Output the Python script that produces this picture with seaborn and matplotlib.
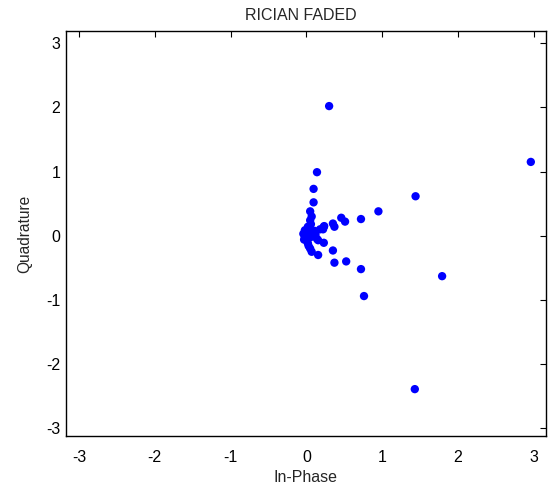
import matplotlib
matplotlib.use("Agg")
import matplotlib.pyplot as plt
import seaborn as sns
import pandas as pd

in_phase = [0.30, 2.96, 1.44, 0.95, 0.72, 0.46, 0.51, 0.35, 0.37, 0.235, 0.22,
            1.79, 0.72, 0.76, 1.43, 0.14, 0.095, 0.095, 0.05, 0.07, 0.05, 0.06,
            0.02, -0.02, -0.04, 0.0, 0.05, 0.11, 0.18, 0.23, -0.02, 0.02, 0.09,
            0.155, 0.23, 0.02, 0.05, 0.07, 0.155, 0.35, 0.37, 0.525, 0.03,
            0.0, -0.03, 0.01, 0.04, 0.08, 0.12, 0.06, 0.14, -0.01, 0.03]
quadrature = [2.02, 1.15, 0.615, 0.38, 0.26, 0.28, 0.22, 0.19, 0.14, 0.15, 0.10,
              -0.63, -0.52, -0.94, -2.39, 0.99, 0.73, 0.52, 0.38, 0.30, 0.24, 0.18,
              0.14, 0.085, 0.03, 0.03, 0.06, 0.075, 0.10, 0.14, -0.02, -0.04, 0.01,
              -0.07, -0.11, -0.12, -0.20, -0.25, -0.30, -0.23, -0.42, -0.40, -0.16,
              0.06, -0.06, -0.08, 0.11, 0.04, 0.02, -0.02, -0.05, 0.0, 0.09]

ticks = [-3, -2, -1, 0, 1, 2, 3]

df = pd.DataFrame({"In-Phase": in_phase, "Quadrature": quadrature})

sns.set_style("white")
plt.rcParams["font.family"] = ["Liberation Sans", "DejaVu Sans"]

fig = plt.figure(figsize=(5.56, 4.88), dpi=100)
ax = fig.add_axes([0.1187, 0.1066, 0.8633, 0.8299])
sns.scatterplot(data=df, x="In-Phase", y="Quadrature", ax=ax, color=(0, 0, 1),
                s=36, edgecolor="none", linewidth=0)
ax.set_xlim(-3.17, 3.16)
ax.set_ylim(-3.12, 3.19)
ax.set_xticks(ticks)
ax.set_yticks(ticks)
ax.set_xticklabels([str(t) for t in ticks])
ax.set_yticklabels([str(t) for t in ticks])
ax.tick_params(direction="in", length=4, width=0.8, top=True, right=True,
               labelsize=11.5, colors="black")
ax.tick_params(axis="x", pad=10)
ax.tick_params(axis="y", pad=4)
for sp in ax.spines.values():
    sp.set_color("black")
    sp.set_linewidth(1.0)
ax.set_title("RICIAN FADED", fontsize=11.5, pad=8, x=0.49)
ax.set_xlabel("In-Phase", fontsize=11.5, labelpad=4)
ax.set_ylabel("Quadrature", fontsize=11.2, labelpad=10)
fig.savefig("out.png", dpi=100)
